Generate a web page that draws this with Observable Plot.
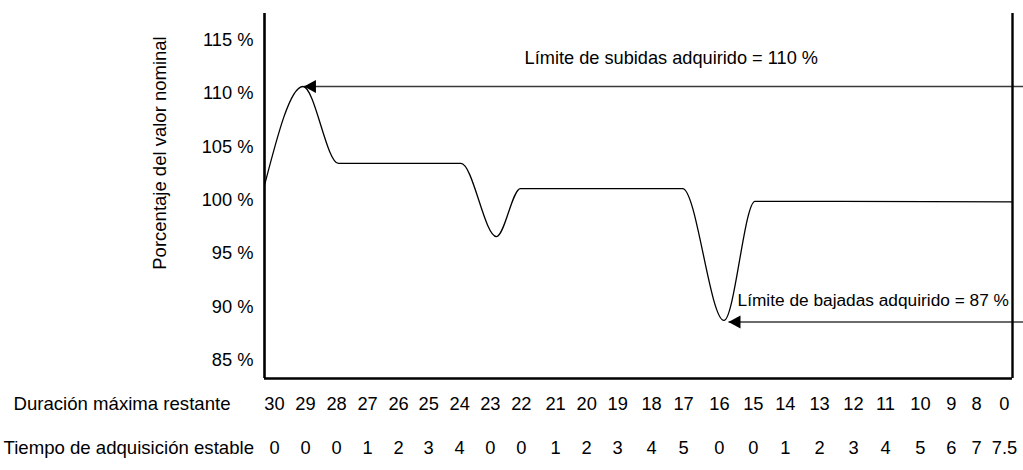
<!DOCTYPE html>
<html>
<head>
<meta charset="utf-8">
<script src="https://cdn.jsdelivr.net/npm/d3@7"></script>
<script src="https://cdn.jsdelivr.net/npm/@observablehq/plot@0.6"></script>
<style>
  html, body { margin: 0; padding: 0; background: #fff; }
</style>
</head>
<body>
<div id="chart"></div>
<script>
// ---- data ----
const yTicks = [85, 90, 95, 100, 105, 110, 115];
const yTitle = "Porcentaje del valor nominal";

// curve: time (column units) and percentage of nominal value
const curveT = [-0.4, 0.79, 1.89, 5.68, 6.78, 7.52, 12.54, 13.82, 14.78, 22.75];
const curveV = [101.4, 110.66, 103.45, 103.45, 96.6, 101.1, 101.1, 88.74, 99.9, 99.85];

// bottom table (time of each column, in the same units as the curve)
const rowTitles = ["Duración máxima restante", "Tiempo de adquisición estable"];
const columnT = [-0.09, 0.87, 1.83, 2.79, 3.75, 4.68, 5.64, 6.59, 7.55, 8.61, 9.57, 10.53,
                 11.58, 12.57, 13.68, 14.73, 15.72, 16.78, 17.83, 18.82, 19.90, 20.86, 21.64, 22.50];
const durationLabels = ["30","29","28","27","26","25","24","23","22","21","20","19","18","17","16","15","14","13","12","11","10","9","8","0"];
const stableLabels = ["0","0","0","1","2","3","4","0","0","1","2","3","4","5","0","0","1","2","3","4","5","6","7","7.5"];

// limit annotations
const limitTexts = ["Límite de subidas adquirido = 110 %", "Límite de bajadas adquirido = 87 %"];
const limitTipT = [0.82, 13.96];
const limitStartT = [23.1, 23.1];
const limitV = [110.66, 88.6];
const limitLabelT = [7.65, 14.24];
const limitLabelV = [113.3, 90.6];

// ---- build ----
const xDomain = [-0.4, 22.75];
const yDomain = [83.3, 117.5];

const curve = curveT.map((t, i) => ({t, v: curveV[i]}));
const cols = columnT.map((t, i) => ({t, d: durationLabels[i], s: stableLabels[i]}));
const limits = limitTexts.map((text, i) => ({
  text, tip: limitTipT[i], start: limitStartT[i], v: limitV[i], lt: limitLabelT[i], lv: limitLabelV[i]
}));

const leftTriangle = {
  draw(ctx) {
    ctx.moveTo(0, 0);
    ctx.lineTo(12, -6.5);
    ctx.lineTo(12, 6.5);
    ctx.closePath();
  }
};

const font = "'Liberation Sans', Arial, Helvetica, sans-serif";

const chart = Plot.plot({
  width: 1023,
  height: 470,
  marginTop: 13,
  marginBottom: 92,
  marginLeft: 264,
  marginRight: 11,
  style: {fontFamily: font, fontSize: "18px", background: "#fff", color: "#000", overflow: "visible"},
  x: {domain: xDomain, axis: null},
  y: {domain: yDomain, axis: null},
  marks: [
    Plot.axisY(yTicks, {tickSize: 0, tickPadding: 11, tickFormat: d => d + " %", fontSize: 18.3, label: null, fill: "#000"}),
    Plot.text([yTitle], {text: d => d, frameAnchor: "left", textAnchor: "middle", lineAnchor: "middle", rotate: -90, dx: -104, dy: -43, fontSize: 18.5, fill: "#000"}),
    // arrows
    Plot.link(limits, {x1: "start", x2: "tip", y1: "v", y2: "v", stroke: "#3a3a3a", strokeWidth: 1.5}),
    Plot.dot(limits, {x: "tip", y: "v", symbol: leftTriangle, fill: "#000", stroke: "none"}),
    Plot.text(limits.slice(0, 1), {x: "lt", y: "lv", text: "text", textAnchor: "start", fontSize: 18.2, fill: "#000"}),
    Plot.text(limits.slice(1), {x: "lt", y: "lv", text: "text", textAnchor: "start", fontSize: 17.3, fill: "#000"}),
    // curve
    Plot.line(curve, {x: "t", y: "v", curve: "monotone-x", stroke: "#000", strokeWidth: 1.3}),
    // frame lines
    Plot.ruleX([xDomain[0]], {stroke: "#000", strokeWidth: 2.6}),
    Plot.ruleX([xDomain[1]], {stroke: "#000", strokeWidth: 2.4}),
    Plot.ruleY([yDomain[0]], {stroke: "#000", strokeWidth: 2.6}),
    // bottom table
    Plot.text(cols, {x: "t", text: "d", frameAnchor: "bottom", dy: 31, fontSize: 18.3, fill: "#000"}),
    Plot.text(cols, {x: "t", text: "s", frameAnchor: "bottom", dy: 75, fontSize: 18.3, fill: "#000"}),
    Plot.text([rowTitles[0]], {text: d => d, frameAnchor: "bottom-left", textAnchor: "start", dx: -251, dy: 31, fontSize: 18.6, fill: "#000"}),
    Plot.text([rowTitles[1]], {text: d => d, frameAnchor: "bottom-left", textAnchor: "start", dx: -261, dy: 75, fontSize: 18.6, fill: "#000"})
  ]
});
document.getElementById("chart").appendChild(chart);
</script>
</body>
</html>
